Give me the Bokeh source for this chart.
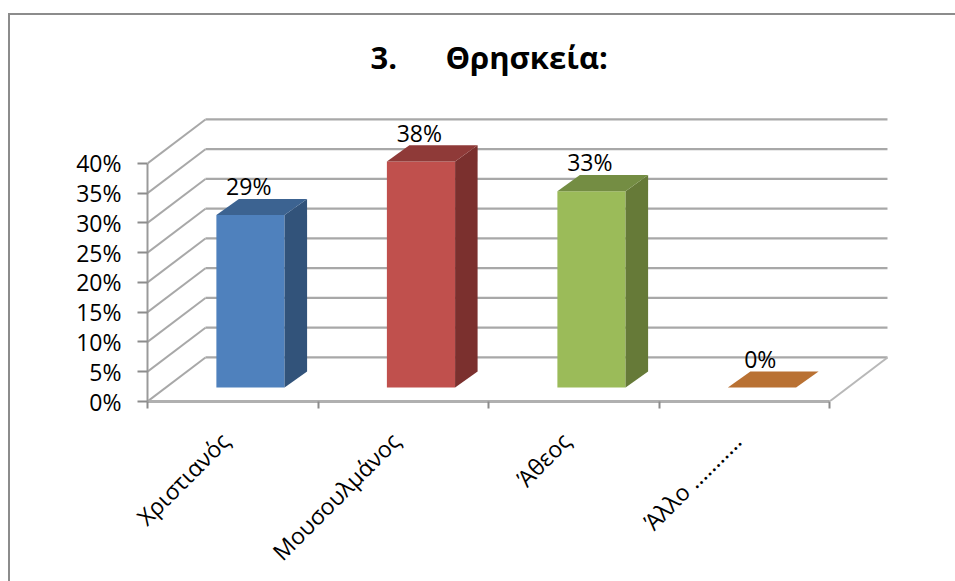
from bokeh.embed import file_html
from bokeh.layouts import column
from bokeh.models import FixedTicker, LinearAxis, PrintfTickFormatter, Range1d
from bokeh.plotting import figure
from bokeh.resources import INLINE
from bokeh.core.properties import value

# Survey answers, in percent
categories = ["Χριστιανός", "Μουσουλμάνος", "Άθεος", "Άλλο ..........."]
shares = [29, 38, 33, 0]
y_ticks = [0, 5, 10, 15, 20, 25, 30, 35, 40]
title_text = "3.\u00a0\u00a0\u00a0\u00a0\u00a0\u00a0Θρησκεία:"

front_colors = ["#4F81BD", "#C0504D", "#9BBB59", "#F79646"]
side_colors = ["#32537A", "#7B302E", "#667A38", "#9E5F28"]
top_colors = ["#3C6391", "#8F3A38", "#748D43", "#B97133"]

FONT = "Open Sans"
GRID = "#a8a8a8"

# Oblique projection of the box, in data units (category steps, percent points)
WALL_DX, WALL_DY = 0.34, 7.4
BAR_DX, BAR_DY = 0.132, 2.7
GAP_DX, GAP_DY = 0.104, 2.35
BAR_W = 0.40
LABEL_RISE = 4.85
LABEL_SHIFT = 0.045

p = figure(
    width=945, height=566, output_backend="svg", toolbar_location=None,
    x_range=Range1d(0, 4.387), y_range=Range1d(0, 52.6),
    min_border_left=137, min_border_right=60, min_border_top=73, min_border_bottom=180,
    x_axis_location=None, y_axis_location=None,
    background_fill_color="white", border_fill_color="white", outline_line_color=None,
)
p.grid.visible = False

# Chart title
p.title.text = title_text
p.title.text_font = FONT
p.title.text_font_style = "bold"
p.title.text_font_size = "31px"
p.title.text_color = "black"
p.title.align = "left"
p.title.offset = 223
p.title.standoff = 21

# Side wall and back wall gridlines
for v in y_ticks:
    p.line([0, WALL_DX], [v, v + WALL_DY], line_color=GRID, line_width=2)
    p.line([WALL_DX, 4 + WALL_DX], [v + WALL_DY, v + WALL_DY], line_color=GRID, line_width=2.2)
# Right edge of the floor
p.line([4, 4 + WALL_DX], [0, WALL_DY], line_color="#b8b8b8", line_width=2)

# Bars as three faces each
for i, v in enumerate(shares):
    x0 = i + 0.5 + GAP_DX - BAR_W / 2
    x1 = x0 + BAR_W
    y0 = GAP_DY
    y1 = y0 + v
    if v > 0:
        p.patch([x0, x1, x1, x0], [y0, y0, y1, y1], fill_color=front_colors[i], line_color=None)
        p.patch([x1, x1 + BAR_DX, x1 + BAR_DX, x1], [y0, y0 + BAR_DY, y1 + BAR_DY, y1],
                fill_color=side_colors[i], line_color=None)
    p.patch([x0, x1, x1 + BAR_DX, x0 + BAR_DX], [y1, y1, y1 + BAR_DY, y1 + BAR_DY],
            fill_color=top_colors[i], line_color=None)
    p.text([(x0 + x1) / 2 - 0.01], [y1 + LABEL_RISE], text=[f"{v}%"],
           text_font=value(FONT), text_font_size="23px", text_color="black",
           text_align="center", text_baseline="alphabetic")

# Value axis
y_axis = LinearAxis(
    ticker=FixedTicker(ticks=y_ticks),
    formatter=PrintfTickFormatter(format="%d%%"),
    bounds=(0, 40),
    axis_line_color="#9a9a9a", axis_line_width=2,
    major_tick_line_color="#8c8c8c", major_tick_line_width=2,
    major_tick_in=0, major_tick_out=10, major_label_standoff=16,
    major_label_text_font=FONT, major_label_text_font_size="23px", major_label_text_color="black",
)
p.add_layout(y_axis, "left")

# Category axis: labels near the category centres, separators as minor ticks
label_ticks = [i + 0.5 - LABEL_SHIFT for i in range(4)]
x_axis = LinearAxis(
    ticker=FixedTicker(ticks=label_ticks, minor_ticks=[0, 1, 2, 3, 4]),
    major_label_overrides=dict(zip(label_ticks, categories)),
    major_label_orientation=0.785,
    bounds=(0, 4),
    axis_line_color="#b0b0b0", axis_line_width=3,
    major_tick_line_color=None,
    minor_tick_line_color="#8c8c8c", minor_tick_line_width=2,
    minor_tick_in=0, minor_tick_out=7,
    major_label_standoff=28,
    major_label_text_font=FONT, major_label_text_font_size="23px", major_label_text_color="black",
)
p.add_layout(x_axis, "below")

# Chart area: its border shows on the top and left only, the rest runs off the page
page = column(
    p, width=947, height=568, margin=(13, 0, 0, 8),
    styles={"border-left": "2px solid #8c8c8c", "border-top": "2px solid #8c8c8c", "overflow": "hidden"},
)

open("out.html", "w").write(file_html(page, INLINE))
